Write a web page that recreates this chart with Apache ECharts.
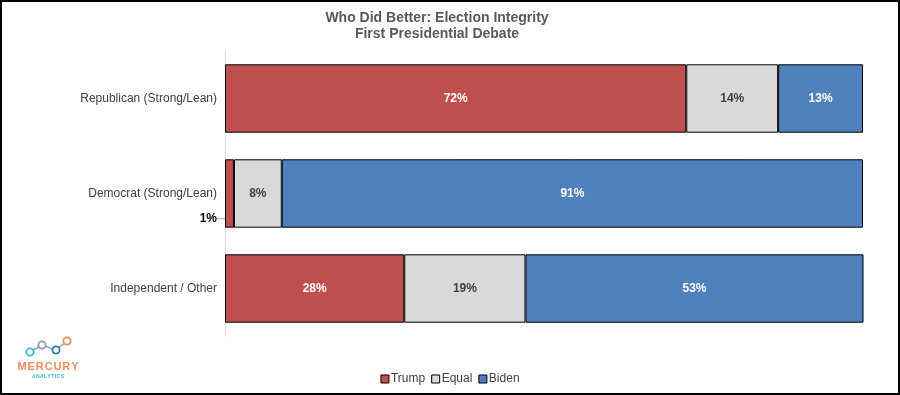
<!DOCTYPE html>
<html><head><meta charset="utf-8">
<script src="https://cdn.jsdelivr.net/npm/echarts@6/dist/echarts.min.js"></script>
<style>html,body{margin:0;padding:0;background:#fff}#c{width:900px;height:395px}</style>
</head><body><div id="c"></div>
<script>
const categories = ['Republican (Strong/Lean)', 'Democrat (Strong/Lean)', 'Independent / Other'];
const trump = [72.3, 1.4, 28.1];
const equal = [14.4, 7.5, 19.0];
const biden = [13.3, 91.1, 53.0];
const seriesNames = ['Trump', 'Equal', 'Biden'];
const colors = ['#C0504D', '#D9D9D9', '#4F81BD'];
const labelColors = ['#ffffff', '#404040', '#ffffff'];

const chart = echarts.init(document.getElementById('c'), null, {renderer: 'canvas'});
const fmt = p => Math.round(p.value) + '%';
function mk(i, data) {
  const s = {
    name: seriesNames[i], type: 'bar', stack: 'all', data: data, barWidth: '72%',
    itemStyle: {color: colors[i], borderColor: '#000', borderWidth: 1},
    label: {show: true, position: 'inside', formatter: fmt, color: labelColors[i],
      fontFamily: 'Liberation Sans, Arial, sans-serif', fontWeight: 'bold', fontSize: 12}
  };
  if (i === 0) {
    s.labelLayout = function (p) {
      if (p.dataIndex === 1) {
        return {x: p.rect.x - 8, y: p.rect.y + p.rect.height - 9, align: 'right', verticalAlign: 'middle'};
      }
      return {};
    };
    s.labelLine = {show: true, lineStyle: {color: '#A6A6A6', width: 1}, length2: 0};
    s.data = data.map((v, k) => k === 1 ? {value: v, label: {color: '#000'}} : v);
  }
  return s;
}
const hs = '\u200A';
chart.setOption({
  animation: false,
  title: {
    text: 'Who Did Better: Election Integrity\nFirst Presidential Debate',
    left: 432, top: 5, textAlign: 'center',
    textStyle: {fontFamily: 'Liberation Sans, Arial, sans-serif', fontSize: 14, fontWeight: 'bold', color: '#595959', lineHeight: 16}
  },
  legend: {
    data: seriesNames, bottom: 5, left: 'center', icon: 'rect', itemWidth: 8, itemHeight: 8, itemGap: 6,
    textStyle: {fontFamily: 'Liberation Sans, Arial, sans-serif', fontSize: 12, color: '#404040', padding: [0, 0, 0, -3]},
    itemStyle: {borderColor: '#000', borderWidth: 1}
  },
  grid: {left: 225, right: 37, top: 51, height: 285},
  xAxis: {type: 'value', min: 0, max: 100, show: false},
  yAxis: {
    type: 'category', data: categories, inverse: true,
    axisLine: {show: true, lineStyle: {color: '#D9D9D9', width: 1}},
    axisTick: {show: false},
    axisLabel: {margin: 8, fontFamily: 'Liberation Sans, Arial, sans-serif', fontSize: 12, color: '#404040'}
  },
  series: [mk(0, trump), mk(1, equal), mk(2, biden)],
  graphic: [
    {type: 'rect', shape: {x: 1, y: 1, width: 898, height: 393}, style: {fill: 'none', stroke: '#000', lineWidth: 2}, silent: true},
    {type: 'polyline', shape: {points: [[30, 352], [42, 345], [56, 350], [67, 341]]}, style: {stroke: '#8FA3AE', lineWidth: 1.5}},
    {type: 'circle', shape: {cx: 30, cy: 352, r: 3.6}, style: {fill: '#fff', stroke: '#3BB8D3', lineWidth: 1.8}},
    {type: 'circle', shape: {cx: 42, cy: 345, r: 3.6}, style: {fill: '#fff', stroke: '#8A9BA5', lineWidth: 1.8}},
    {type: 'circle', shape: {cx: 56, cy: 350, r: 3.6}, style: {fill: '#fff', stroke: '#2A7FA5', lineWidth: 1.8}},
    {type: 'circle', shape: {cx: 67, cy: 341, r: 3.6}, style: {fill: '#fff', stroke: '#F08A5D', lineWidth: 1.8}},
    {type: 'text', x: 48, y: 367, style: {text: 'MERCURY'.split('').join(hs), fill: '#F08A5D', font: 'bold 11px "Liberation Sans", Arial, sans-serif', align: 'center', verticalAlign: 'middle'}},
    {type: 'text', x: 48, y: 377, style: {text: 'ANALYTICS'.split('').join(hs), fill: '#3BB8D3', font: 'bold 5px "Liberation Sans", Arial, sans-serif', align: 'center', verticalAlign: 'middle'}}
  ]
});
</script></body></html>
